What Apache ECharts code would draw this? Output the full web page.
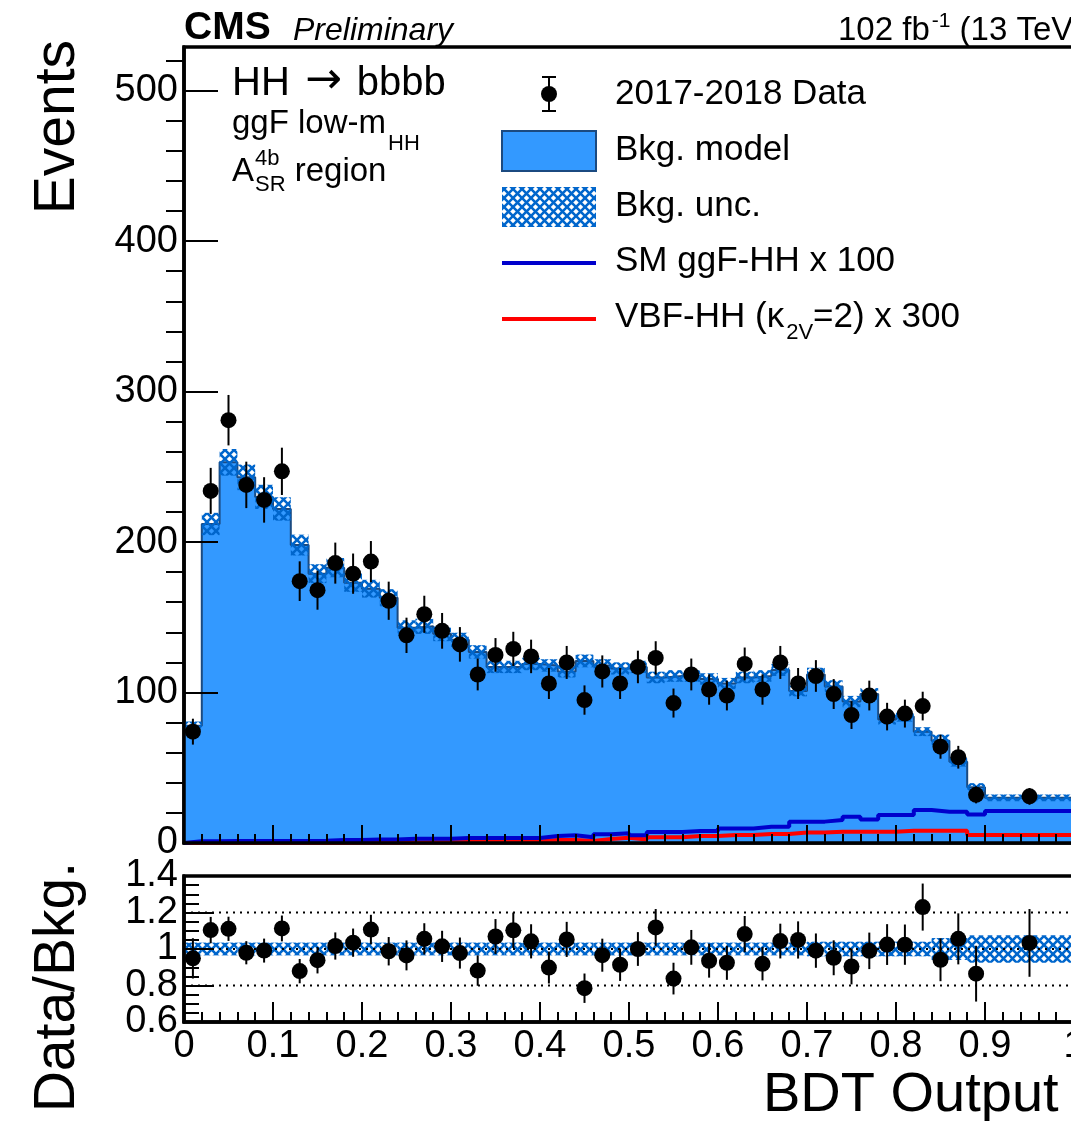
<!DOCTYPE html>
<html>
<head>
<meta charset="utf-8">
<script src="https://cdn.jsdelivr.net/npm/echarts@6/dist/echarts.min.js"></script>
<style>
  html, body { margin: 0; padding: 0; background: #fff; }
  #chart { width: 1071px; height: 1121px; }
</style>
</head>
<body>
<div id="chart"></div>
<script>
// ---- Histogram content (BDT output bins) ----
const binEdges = [0, 0.02, 0.04, 0.06, 0.08, 0.10, 0.12, 0.14, 0.16, 0.18, 0.20,
  0.22, 0.24, 0.26, 0.28, 0.30, 0.32, 0.34, 0.36, 0.38, 0.40,
  0.42, 0.44, 0.46, 0.48, 0.50, 0.52, 0.54, 0.56, 0.58, 0.60,
  0.62, 0.64, 0.66, 0.68, 0.70, 0.72, 0.74, 0.76, 0.78, 0.80,
  0.82, 0.84, 0.86, 0.88, 0.90, 1.00];

// 2017-2018 data, events per bin
const dataCounts = [74, 234, 281, 238, 228, 247, 174, 168, 186, 179,
  187, 161, 138, 152, 141, 132, 112, 125, 129, 124,
  106, 120, 95, 114, 106, 117, 123, 93, 112, 102,
  98, 119, 102, 120, 106, 111, 99, 85, 98, 84,
  86, 91, 64, 57, 32, 31];

// Background model, events per bin
const bkgModel = [78, 212, 253, 243, 230, 222, 198, 179, 183, 173,
  169, 163, 143, 144, 139, 135, 127, 117, 117, 119,
  118, 114, 121, 118, 116, 117, 110, 111, 111, 109,
  106, 110, 111, 115, 101, 112, 104, 94, 99, 82,
  84, 74, 68, 54, 37, 30];

// Relative background uncertainty per bin
const bkgRelUnc = [0.035, 0.035, 0.035, 0.035, 0.035, 0.035, 0.035, 0.035, 0.035, 0.035,
  0.035, 0.035, 0.035, 0.035, 0.035, 0.035, 0.035, 0.035, 0.035, 0.035,
  0.035, 0.035, 0.035, 0.035, 0.035, 0.035, 0.035, 0.035, 0.035, 0.035,
  0.035, 0.035, 0.035, 0.035, 0.035, 0.04, 0.04, 0.04, 0.04, 0.04,
  0.04, 0.04, 0.06, 0.06, 0.075, 0.075];

// SM ggF-HH signal (x 100)
const ggfSignal = [1.2, 1.2, 1.3, 1.3, 1.3, 1.4, 1.4, 1.5, 2.0, 2.0,
  2.4, 2.4, 2.9, 2.9, 2.9, 3.3, 3.3, 3.3, 3.3, 3.3,
  4.6, 5.1, 3.8, 5.8, 6.5, 5.1, 7.3, 7.3, 8.0, 8.0,
  9.7, 9.7, 10.8, 10.8, 14.2, 14.2, 15.3, 17.5, 15.7, 18.6,
  18.6, 21.9, 20.8, 20.8, 19.0, 21.2];

// VBF-HH (k2V = 2) signal (x 300)
const vbfSignal = [0.1, 0.1, 0.1, 0.1, 0.1, 0.2, 0.2, 0.2, 0.2, 0.3,
  0.3, 0.3, 0.4, 0.5, 0.5, 0.6, 0.7, 0.8, 0.9, 1.0,
  2.0, 2.0, 1.3, 2.6, 3.5, 2.4, 3.8, 3.8, 4.6, 4.6,
  5.3, 5.3, 6.0, 6.0, 6.9, 6.9, 7.5, 7.5, 7.5, 7.5,
  8.2, 8.2, 8.2, 8.2, 5.3, 5.3];

// Axis ticks
const mainYTicks = [0, 100, 200, 300, 400, 500];
const mainYMinorTicks = [20, 40, 60, 80, 120, 140, 160, 180, 220, 240, 260, 280,
  320, 340, 360, 380, 420, 440, 460, 480, 520];
const mainYMax = 529;
const ratioYTicks = [0.6, 0.8, 1.0, 1.2, 1.4];
const ratioRefLines = [0.8, 1.0, 1.2];

// ---- Styling ----
const FONT = '"Liberation Sans", Arial, Helvetica, sans-serif';
const BKG_FILL = '#3399ff';
const BKG_EDGE = '#1b4a80';
const HATCH = '#0066cc';
const SIG_BLUE = '#0000cc';
const SIG_RED = '#ff0000';
const LABEL_SIZE = 38;

function makeHatch() {
  const s = 9;
  const c = document.createElement('canvas');
  c.width = s; c.height = s;
  const g = c.getContext('2d');
  g.strokeStyle = HATCH;
  g.lineWidth = 2.6;
  g.beginPath();
  g.moveTo(-2, -2); g.lineTo(s + 2, s + 2);
  g.moveTo(s + 2, -2); g.lineTo(-2, s + 2);
  g.stroke();
  return c;
}
const hatchPattern = { image: makeHatch(), repeat: 'repeat' };

function stepPoints(values) {
  const pts = [[binEdges[0], 0]];
  values.forEach((v, i) => { pts.push([binEdges[i], v], [binEdges[i + 1], v]); });
  pts.push([binEdges[binEdges.length - 1], 0]);
  return pts;
}

const bins = dataCounts.map((_, i) => i);
const bandMain = bins.map(i => [binEdges[i], binEdges[i + 1], bkgModel[i], bkgRelUnc[i] * bkgModel[i]]);
const bandRatio = bins.map(i => [binEdges[i], binEdges[i + 1], 1, bkgRelUnc[i]]);
const centers = bins.map(i => (binEdges[i] + binEdges[i + 1]) / 2);
// Poisson errors on the observed counts
const dataPoints = bins.map(i => [centers[i], dataCounts[i], Math.sqrt(dataCounts[i])]);
const ratioPoints = bins.map(i => [centers[i], dataCounts[i] / bkgModel[i], Math.sqrt(dataCounts[i]) / bkgModel[i]]);

function bandItem(params, api) {
  const lo = api.value(0), hi = api.value(1), c = api.value(2), e = api.value(3);
  const p1 = api.coord([lo, c + e]);
  const p2 = api.coord([hi, c - e]);
  return {
    type: 'rect',
    shape: { x: p1[0], y: p1[1], width: p2[0] - p1[0], height: p2[1] - p1[1] },
    style: { fill: hatchPattern }
  };
}

function pointItem(params, api) {
  const x = api.value(0), y = api.value(1), e = api.value(2);
  const c = api.coord([x, y]);
  const t = api.coord([x, y + e]);
  const b = api.coord([x, y - e]);
  return {
    type: 'group',
    children: [
      { type: 'line', shape: { x1: c[0], y1: t[1], x2: c[0], y2: b[1] }, style: { stroke: '#000', lineWidth: 2 } },
      { type: 'circle', shape: { cx: c[0], cy: c[1], r: 8 }, style: { fill: '#000' } }
    ]
  };
}

// ---- Text helpers (baseline-positioned runs with sub/superscripts) ----
const mctx = document.createElement('canvas').getContext('2d');
function textRun(x, baseline, pieces) {
  const out = [];
  let cx = x;
  pieces.forEach(p => {
    const family = p.family || FONT;
    const font = (p.italic ? 'italic ' : '') + (p.bold ? 'bold ' : '') + p.size + 'px ' + family;
    mctx.font = font;
    const w = mctx.measureText(p.text).width;
    out.push({
      type: 'text', z: 100,
      x: cx + (p.dx || 0), y: baseline + (p.dy || 0) - 0.3465 * p.size,
      style: { text: p.text, font: font, fill: '#000', textAlign: 'left', textVerticalAlign: 'middle' }
    });
    if (!p.noAdvance) cx += w + (p.dx || 0);
  });
  return out;
}
function vText(xBaseline, yTop, text, size) {
  return {
    type: 'text', z: 100, rotation: Math.PI / 2,
    x: xBaseline - 0.3465 * size, y: yTop,
    style: { text: text, font: size + 'px ' + FONT, fill: '#000', textAlign: 'right', textVerticalAlign: 'middle' }
  };
}

const graphics = [].concat(
  textRun(184, 42, [{ text: 'CMS', size: 39, bold: true }]),
  textRun(293, 42, [{ text: 'Preliminary', size: 32, italic: true }]),
  textRun(838, 42, [
    { text: '102 fb', size: 33 },
    { text: '-1', size: 21, dy: -14, dx: 2 },
    { text: ' (13 TeV)', size: 33 }
  ]),
  textRun(232, 98, [
    { text: 'HH ', size: 40 },
    { text: '\u2192', size: 44, family: '"DejaVu Sans", sans-serif', dy: -1, dx: 4 },
    { text: ' bbbb', size: 40, dx: 4 }
  ]),
  textRun(232, 135, [
    { text: 'ggF low-m', size: 33 },
    { text: 'HH', size: 22, dy: 17, dx: 2 }
  ]),
  textRun(232, 183, [
    { text: 'A', size: 33 },
    { text: '4b', size: 22, dy: -16, dx: 1, noAdvance: true },
    { text: 'SR', size: 22, dy: 10, dx: 1 },
    { text: ' region', size: 33 }
  ]),
  // legend
  textRun(615, 106, [{ text: '2017-2018 Data', size: 35 }]),
  textRun(615, 162, [{ text: 'Bkg. model', size: 35 }]),
  textRun(615, 218, [{ text: 'Bkg. unc.', size: 35 }]),
  textRun(615, 273, [{ text: 'SM ggF-HH x 100', size: 35 }]),
  textRun(615, 329, [
    { text: 'VBF-HH (\u03ba', size: 35 },
    { text: '2V', size: 22, dy: 12, dx: 2 },
    { text: '=2) x 300', size: 35 }
  ]),
  [
    { type: 'line', z: 100, shape: { x1: 549, y1: 77, x2: 549, y2: 111 }, style: { stroke: '#000', lineWidth: 2 } },
    { type: 'line', z: 100, shape: { x1: 542, y1: 77, x2: 556, y2: 77 }, style: { stroke: '#000', lineWidth: 2 } },
    { type: 'line', z: 100, shape: { x1: 542, y1: 111, x2: 556, y2: 111 }, style: { stroke: '#000', lineWidth: 2 } },
    { type: 'circle', z: 100, shape: { cx: 549, cy: 94, r: 8 }, style: { fill: '#000' } },
    { type: 'rect', z: 100, shape: { x: 502, y: 131, width: 94, height: 40 }, style: { fill: BKG_FILL, stroke: BKG_EDGE, lineWidth: 2 } },
    { type: 'rect', z: 100, shape: { x: 502, y: 187, width: 94, height: 40 }, style: { fill: hatchPattern } },
    { type: 'line', z: 100, shape: { x1: 502, y1: 263, x2: 596, y2: 263 }, style: { stroke: SIG_BLUE, lineWidth: 4 } },
    { type: 'line', z: 100, shape: { x1: 502, y1: 319, x2: 596, y2: 319 }, style: { stroke: SIG_RED, lineWidth: 4 } },
    vText(78, 40, 'Events', 57),
    vText(78, 862, 'Data/Bkg.', 57)
  ],
  textRun(763, 1115, [{ text: 'BDT Output', size: 56 }])
);

const axisLineStyle = { color: '#000', width: 3.5 };
const tickStyle = { color: '#000', width: 2 };
const labelStyle = { color: '#000', fontSize: LABEL_SIZE, fontFamily: FONT, showMinLabel: true, showMaxLabel: true, hideOverlap: false };

const option = {
  animation: false,
  backgroundColor: '#fff',
  grid: [
    { left: 184, top: 47, width: 890, height: 796, outerBoundsMode: 'none', containLabel: false,
      show: true, borderColor: '#000', borderWidth: 3.5, backgroundColor: 'transparent' },
    { left: 184, top: 876, width: 890, height: 146, outerBoundsMode: 'none', containLabel: false,
      show: true, borderColor: '#000', borderWidth: 3.5, backgroundColor: 'transparent' }
  ],
  xAxis: [
    {
      type: 'value', gridIndex: 0, min: 0, max: 1, interval: 0.1, z: 20,
      axisLine: { onZero: false, lineStyle: axisLineStyle },
      axisTick: { inside: true, length: 18, lineStyle: tickStyle },
      minorTick: { show: true, splitNumber: 5, length: 9, lineStyle: tickStyle },
      axisLabel: { show: false },
      splitLine: { show: false }
    },
    {
      type: 'value', gridIndex: 1, min: 0, max: 1, interval: 0.1, z: 20,
      axisLine: { onZero: false, lineStyle: axisLineStyle },
      axisTick: { inside: true, length: 20, lineStyle: tickStyle },
      minorTick: { show: true, splitNumber: 5, length: 10, lineStyle: tickStyle },
      axisLabel: Object.assign({}, labelStyle, { margin: 6 }),
      splitLine: { show: false }
    }
  ],
  yAxis: [
    {
      type: 'value', gridIndex: 0, min: 0, max: mainYMax, z: 20,
      axisLine: { onZero: false, lineStyle: axisLineStyle },
      axisTick: { inside: true, length: 34, lineStyle: tickStyle, customValues: mainYTicks },
      axisLabel: Object.assign({ margin: 6, customValues: mainYTicks }, labelStyle),
      splitLine: { show: false }
    },
    {
      type: 'value', gridIndex: 0, min: 0, max: mainYMax, z: 20,
      axisLine: { show: false },
      axisTick: { inside: true, length: 18, lineStyle: tickStyle, customValues: mainYMinorTicks },
      axisLabel: { show: false },
      splitLine: { show: false }
    },
    {
      // tick labels of this axis are placed below, once the scale is laid out
      type: 'value', gridIndex: 1, min: 0.6, max: 1.4, interval: 0.2, z: 20,
      axisLine: { onZero: false, lineStyle: axisLineStyle },
      axisTick: { inside: true, length: 30, lineStyle: tickStyle },
      minorTick: { show: true, splitNumber: 4, length: 15, lineStyle: tickStyle },
      axisLabel: { show: false },
      splitLine: { show: false }
    }
  ],
  series: [
    {
      name: 'Bkg. model', type: 'line', xAxisIndex: 0, yAxisIndex: 0, z: 2,
      data: stepPoints(bkgModel), symbol: 'none',
      lineStyle: { color: BKG_EDGE, width: 2 },
      areaStyle: { color: BKG_FILL, opacity: 1 }
    },
    {
      name: 'Bkg. unc.', type: 'custom', xAxisIndex: 0, yAxisIndex: 0, z: 3,
      data: bandMain, renderItem: bandItem
    },
    {
      name: 'VBF-HH', type: 'line', xAxisIndex: 0, yAxisIndex: 0, z: 4,
      data: stepPoints(vbfSignal), symbol: 'none',
      lineStyle: { color: SIG_RED, width: 4 }
    },
    {
      name: 'SM ggF-HH', type: 'line', xAxisIndex: 0, yAxisIndex: 0, z: 5,
      data: stepPoints(ggfSignal), symbol: 'none',
      lineStyle: { color: SIG_BLUE, width: 4 }
    },
    {
      name: '2017-2018 Data', type: 'custom', xAxisIndex: 0, yAxisIndex: 0, z: 6,
      data: dataPoints, renderItem: pointItem
    },
    {
      name: 'Ratio band', type: 'custom', xAxisIndex: 1, yAxisIndex: 2, z: 3,
      data: bandRatio, renderItem: bandItem
    }
  ].concat(ratioRefLines.map(v => ({
    type: 'line', xAxisIndex: 1, yAxisIndex: 2, z: 4,
    data: [[0, v], [1, v]], symbol: 'none',
    lineStyle: { color: '#000', width: 2, type: [2, 5] }
  }))).concat([
    {
      name: 'Data/Bkg.', type: 'custom', xAxisIndex: 1, yAxisIndex: 2, z: 6,
      data: ratioPoints, renderItem: pointItem
    }
  ]),
  graphic: graphics
};

const chart = echarts.init(document.getElementById('chart'), null, { renderer: 'canvas' });
chart.setOption(option);

// Ratio-panel tick labels, positioned through the axis scale
const ratioLabels = ratioYTicks.map(v => {
  const py = chart.convertToPixel({ yAxisIndex: 2 }, v);
  const px = chart.convertToPixel({ xAxisIndex: 1 }, 0);
  return {
    type: 'text', z: 100, x: px - 6, y: py,
    style: { text: String(v), font: LABEL_SIZE + 'px ' + FONT, fill: '#000', textAlign: 'right', textVerticalAlign: 'middle' }
  };
});
chart.setOption({ graphic: graphics.concat(ratioLabels) });
</script>
</body>
</html>
